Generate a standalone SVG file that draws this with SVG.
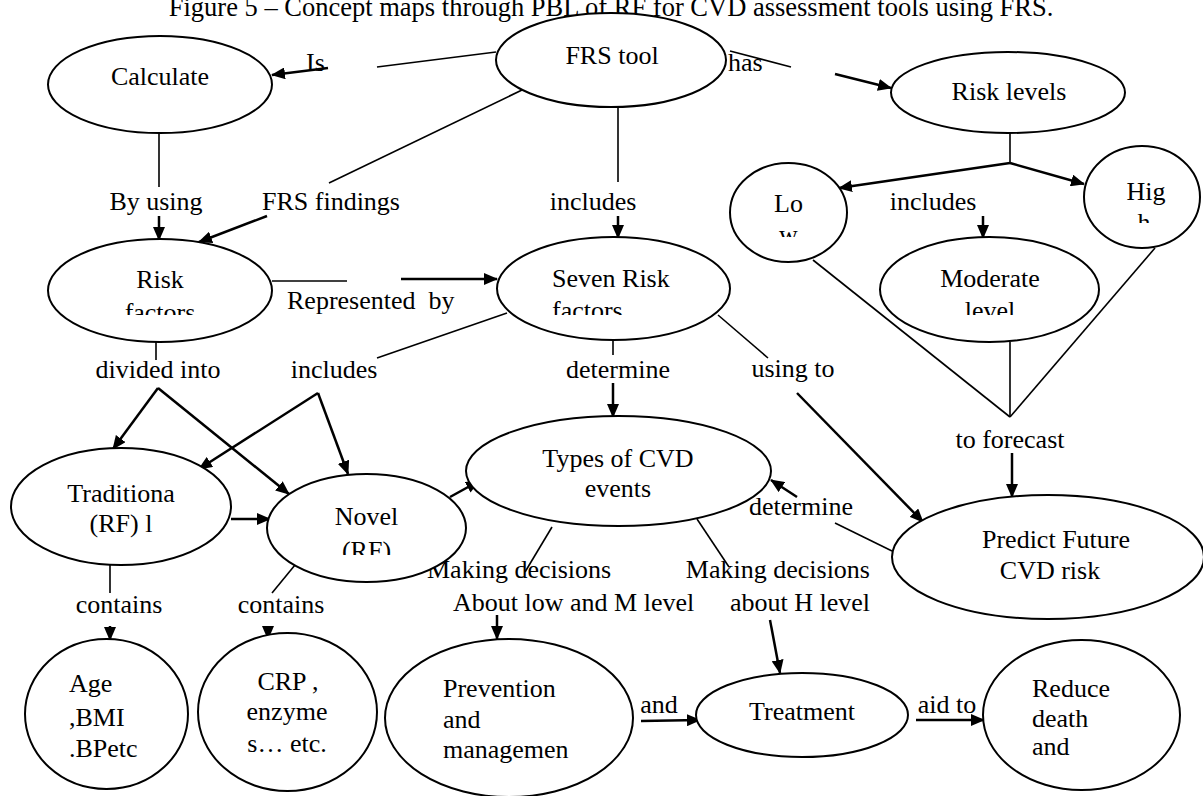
<svg xmlns="http://www.w3.org/2000/svg" width="1203" height="796" viewBox="0 0 1203 796">
<style>
text{font-family:"Liberation Serif","Times New Roman",serif;font-size:26px;fill:#000}
.c{text-anchor:middle}
.n{fill:#fff;stroke:#000;stroke-width:2}
.ln{stroke:#000;stroke-width:1.6;fill:none}
.ar{stroke:#000;stroke-width:2.5;fill:none;marker-end:url(#ah)}
</style>
<defs>
<marker id="ah" markerUnits="userSpaceOnUse" markerWidth="14" markerHeight="12" refX="13" refY="6" orient="auto">
<path d="M0,0 L14,6 L0,12 z" fill="#000"/>
</marker>
<clipPath id="cpRisk" clipPathUnits="userSpaceOnUse"><rect x="40" y="230" width="240" height="85"/></clipPath>
<clipPath id="cpSeven" clipPathUnits="userSpaceOnUse"><rect x="490" y="230" width="250" height="85"/></clipPath>
<clipPath id="cpMod" clipPathUnits="userSpaceOnUse"><rect x="875" y="230" width="230" height="85"/></clipPath>
<clipPath id="cpLo" clipPathUnits="userSpaceOnUse"><rect x="725" y="160" width="130" height="77"/></clipPath>
<clipPath id="cpHig" clipPathUnits="userSpaceOnUse"><rect x="1080" y="145" width="123" height="78"/></clipPath>
<clipPath id="cpNovel" clipPathUnits="userSpaceOnUse"><rect x="265" y="470" width="205" height="85"/></clipPath>
</defs>
<rect width="1203" height="796" fill="#fff"/>
<text id="title" x="611" y="16" class="c" style="font-size:26.5px">Figure 5 – Concept maps through PBL of RF for CVD assessment tools using FRS.</text>

<g id="connectors">
<line class="ln" x1="496" y1="52" x2="377" y2="67"/>
<line class="ar" x1="328" y1="68" x2="272" y2="75"/>
<line class="ln" x1="730" y1="51" x2="791" y2="67"/>
<line class="ar" x1="835" y1="74" x2="891" y2="88"/>
<line class="ln" x1="1010" y1="133" x2="1010" y2="163"/>
<line class="ar" x1="1010" y1="163" x2="839" y2="188"/>
<line class="ar" x1="1010" y1="163" x2="1084" y2="184"/>
<line class="ar" x1="983" y1="216" x2="983" y2="238"/>
<line class="ln" x1="813" y1="260" x2="1010" y2="417"/>
<line class="ln" x1="1010" y1="342" x2="1010" y2="417"/>
<line class="ln" x1="1155" y1="248" x2="1010" y2="417"/>
<line class="ar" x1="1012" y1="453" x2="1012" y2="497"/>
<line class="ln" x1="718" y1="315" x2="768" y2="358"/>
<line class="ar" x1="797" y1="393" x2="923" y2="522"/>
<line class="ar" x1="797" y1="497" x2="771" y2="480"/>
<line class="ln" x1="835" y1="523" x2="892" y2="551"/>
<line class="ln" x1="613" y1="340" x2="613" y2="355"/>
<line class="ar" x1="613" y1="383" x2="613" y2="417"/>
<line class="ln" x1="618" y1="107" x2="618" y2="182"/>
<line class="ar" x1="618" y1="216" x2="618" y2="238"/>
<line class="ln" x1="159" y1="133" x2="159" y2="187"/>
<line class="ar" x1="159" y1="216" x2="159" y2="240"/>
<line class="ln" x1="522" y1="90" x2="329" y2="183"/>
<line class="ar" x1="267" y1="216" x2="199" y2="242"/>
<line class="ln" x1="272" y1="281" x2="347" y2="281"/>
<line class="ar" x1="401" y1="279" x2="497" y2="279"/>
<line class="ln" x1="156" y1="342" x2="156" y2="360"/>
<line class="ar" x1="158" y1="388" x2="113" y2="449"/>
<line class="ar" x1="158" y1="388" x2="289" y2="494"/>
<line class="ln" x1="507" y1="313" x2="377" y2="358"/>
<line class="ar" x1="318" y1="393" x2="199" y2="469"/>
<line class="ar" x1="318" y1="393" x2="348" y2="474"/>
<line class="ar" x1="231" y1="519" x2="270" y2="519"/>
<line class="ar" x1="450" y1="497" x2="479" y2="481"/>
<line class="ln" x1="552" y1="527" x2="525" y2="572"/>
<line class="ar" x1="497" y1="615" x2="497" y2="639"/>
<line class="ln" x1="697" y1="519" x2="729" y2="567"/>
<line class="ar" x1="770" y1="620" x2="780" y2="673"/>
<line class="ln" x1="110" y1="565" x2="110" y2="593"/>
<line class="ar" x1="110" y1="626" x2="110" y2="640"/>
<line class="ln" x1="295" y1="565" x2="272" y2="593"/>
<line class="ar" x1="268" y1="626" x2="268" y2="639"/>
<line class="ar" x1="641" y1="721" x2="700" y2="720"/>
<line class="ar" x1="916" y1="720" x2="984" y2="720"/>
</g>

<g id="labels">
<text x="306" y="71">Is</text>
<text x="728" y="71">has</text>
<text x="156" y="210" class="c">By using</text>
<text x="331" y="210" class="c">FRS findings</text>
<text x="593" y="210" class="c">includes</text>
<text x="933" y="210" class="c">includes</text>
<text x="287" y="309" style="white-space:pre">Represented  by</text>
<text x="158" y="378" class="c">divided into</text>
<text x="334" y="378" class="c">includes</text>
<text x="618" y="378" class="c">determine</text>
<text x="793" y="377" class="c">using to</text>
<text x="1010" y="448" class="c">to forecast</text>
<text x="801" y="515" class="c">determine</text>
<text x="427" y="578">Making decisions</text>
<text x="453" y="611">About low and M level</text>
<text x="870" y="578" text-anchor="end">Making decisions</text>
<text x="870" y="611" text-anchor="end">about H level</text>
<text x="119" y="613" class="c">contains</text>
<text x="281" y="613" class="c">contains</text>
<text x="659" y="713" class="c">and</text>
<text x="947" y="713" class="c">aid to</text>
</g>

<g id="calculate"><ellipse class="n" cx="160" cy="84.5" rx="112" ry="48.5"/><text x="160" y="85" class="c">Calculate</text></g>
<g id="frs-tool"><ellipse class="n" cx="611" cy="60" rx="115" ry="47"/><text x="612" y="64" class="c">FRS tool</text></g>
<g id="risk-levels"><ellipse class="n" cx="1008" cy="92.5" rx="117" ry="40.5"/><text x="1009" y="100" class="c">Risk levels</text></g>
<g id="low"><ellipse class="n" cx="788.5" cy="212.5" rx="58.5" ry="49.5"/><g clip-path="url(#cpLo)"><text x="788.5" y="212" class="c">Lo</text><text x="788.5" y="243" class="c">w</text></g></g>
<g id="high"><ellipse class="n" cx="1142" cy="197" rx="58" ry="51"/><g clip-path="url(#cpHig)"><text x="1146" y="200" class="c">Hig</text><text x="1144" y="231" class="c">h</text></g></g>
<g id="moderate"><ellipse class="n" cx="989.5" cy="289.5" rx="109.5" ry="52.5"/><g clip-path="url(#cpMod)"><text x="990" y="287" class="c">Moderate</text><text x="990" y="319" class="c">level</text></g></g>
<g id="risk-factors"><ellipse class="n" cx="160" cy="290.5" rx="112" ry="51.5"/><g clip-path="url(#cpRisk)"><text x="160" y="288" class="c">Risk</text><text x="160" y="321" class="c">factors</text></g></g>
<g id="seven-risk"><ellipse class="n" cx="613.5" cy="288.5" rx="116.5" ry="51.5"/><g clip-path="url(#cpSeven)"><text x="552" y="287">Seven Risk</text><text x="552" y="319">factors</text></g></g>
<g id="traditional"><ellipse class="n" cx="121" cy="506.5" rx="110" ry="58.5"/><text x="121" y="502" class="c">Traditiona</text><text x="121" y="532" class="c">(RF) l</text></g>
<g id="novel"><ellipse class="n" cx="366.5" cy="528" rx="99.5" ry="54"/><g clip-path="url(#cpNovel)"><text x="366.5" y="525" class="c">Novel</text><text x="366.5" y="559" class="c">(RF)</text></g></g>
<g id="types-cvd"><ellipse class="n" cx="618.5" cy="471" rx="152.5" ry="55"/><text x="618" y="467" class="c">Types of CVD</text><text x="618" y="497" class="c">events</text></g>
<g id="predict"><ellipse class="n" cx="1048" cy="557" rx="156" ry="62"/><text x="1056" y="548" class="c">Predict Future</text><text x="1050" y="579" class="c">CVD risk</text></g>
<g id="age"><ellipse class="n" cx="106.5" cy="714" rx="81.5" ry="75"/><text x="69" y="692">Age</text><text x="69" y="726">,BMI</text><text x="69" y="757">.BPetc</text></g>
<g id="crp"><ellipse class="n" cx="287.5" cy="712" rx="89.5" ry="79"/><text x="288" y="690" class="c">CRP ,</text><text x="287" y="720" class="c">enzyme</text><text x="287" y="752" class="c">s… etc.</text></g>
<g id="prevention"><ellipse class="n" cx="509" cy="718" rx="124" ry="79"/><text x="443" y="697">Prevention</text><text x="443" y="728">and</text><text x="443" y="758">managemen</text></g>
<g id="treatment"><ellipse class="n" cx="802" cy="715" rx="106" ry="42"/><text x="802" y="720" class="c">Treatment</text></g>
<g id="reduce"><ellipse class="n" cx="1081.5" cy="715" rx="98.5" ry="75"/><text x="1032" y="697">Reduce</text><text x="1032" y="727">death</text><text x="1032" y="755">and</text></g>
</svg>
